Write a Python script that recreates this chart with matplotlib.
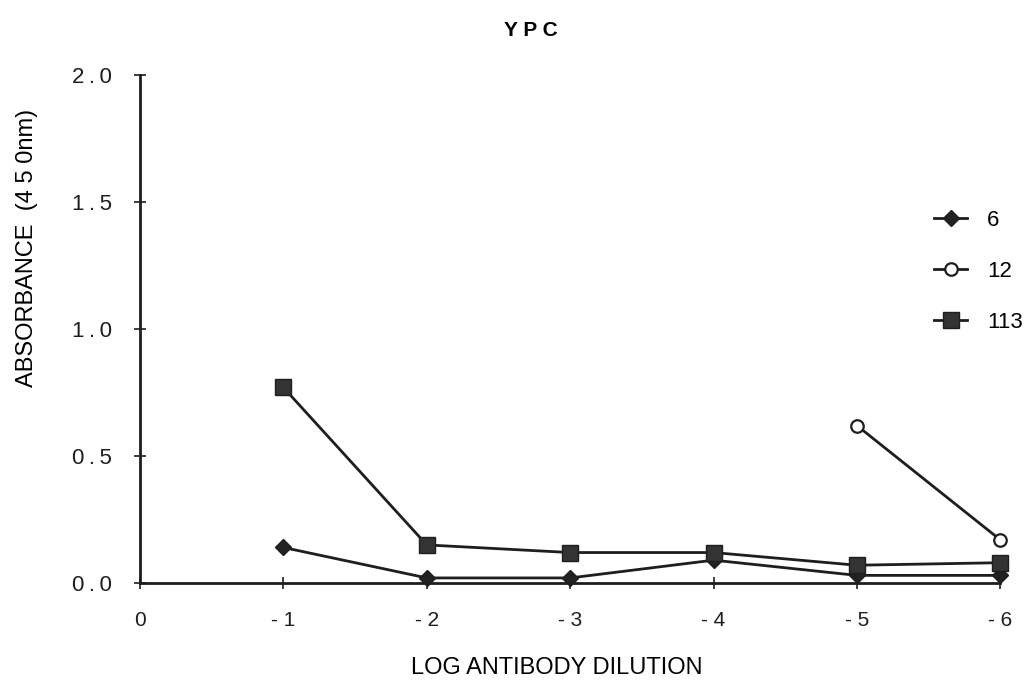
import matplotlib
matplotlib.use('Agg')
import matplotlib.pyplot as plt

plt.rcParams['font.family'] = ['Liberation Sans', 'DejaVu Sans']

# log antibody dilution
dilution = [-1, -2, -3, -4, -5, -6]
abs_6 = [0.14, 0.02, 0.02, 0.09, 0.03, 0.03]
abs_113 = [0.77, 0.15, 0.12, 0.12, 0.07, 0.08]
dilution_12 = [-5, -6]
abs_12 = [0.62, 0.17]

xticks = [0, -1, -2, -3, -4, -5, -6]
xticklabels = ['0', '- 1', '- 2', '- 3', '- 4', '- 5', '- 6']
yticks = [0.0, 0.5, 1.0, 1.5, 2.0]
yticklabels = ['0\u2009.\u20090', '0\u2009.\u20095', '1\u2009.\u20090', '1\u2009.\u20095', '2\u2009.\u20090']

fig = plt.figure(figsize=(10.34, 6.83), dpi=100)
ax = fig.add_axes([0.1354, 0.1464, 0.832, 0.7436])

ax.plot(dilution, abs_6, color='#1e1e1e', linewidth=2, marker='D', markersize=8.5,
        markerfacecolor='#222222', markeredgecolor='#1e1e1e', label='6', clip_on=False)
ax.plot(dilution_12, abs_12, color='#1e1e1e', linewidth=2, marker='o', markersize=9,
        markerfacecolor='white', markeredgecolor='#1e1e1e', markeredgewidth=1.6, label='12',
        clip_on=False)
ax.plot(dilution, abs_113, color='#1e1e1e', linewidth=2, marker='s', markersize=11,
        markerfacecolor='#333333', markeredgecolor='#1e1e1e', label='113', clip_on=False)

ax.set_xlim(0, -6)
ax.set_ylim(0, 2.0)
ax.set_xticks(xticks)
ax.set_xticklabels(xticklabels, fontsize=15)
ax.set_yticks(yticks)
ax.set_yticklabels(yticklabels, fontsize=16)
for s in ['top', 'right']:
    ax.spines[s].set_visible(False)
for s in ['left', 'bottom']:
    ax.spines[s].set_linewidth(2)
    ax.spines[s].set_color('#1e1e1e')
ax.tick_params(axis='both', direction='inout', length=8, width=1.2, colors='#1e1e1e')
ax.tick_params(axis='y', pad=16)
ax.tick_params(axis='x', pad=16)

fig.text(0.513, 0.955, 'Y P C', fontsize=15, fontweight='bold', ha='center', va='center')
ax.set_xlabel('LOG ANTIBODY DILUTION', fontsize=17)
ax.xaxis.set_label_coords(0.485, -0.145)
ax.set_ylabel('ABSORBANCE  (4 5 0nm)', fontsize=17)
ax.yaxis.set_label_coords(-0.118, 0.66)

ax.legend(loc='upper left', bbox_to_anchor=(0.91, 0.757), frameon=False, fontsize=16,
          handlelength=1.5, labelspacing=1.35, handletextpad=0.9, borderpad=0)

fig.savefig('out.png', dpi=100)
